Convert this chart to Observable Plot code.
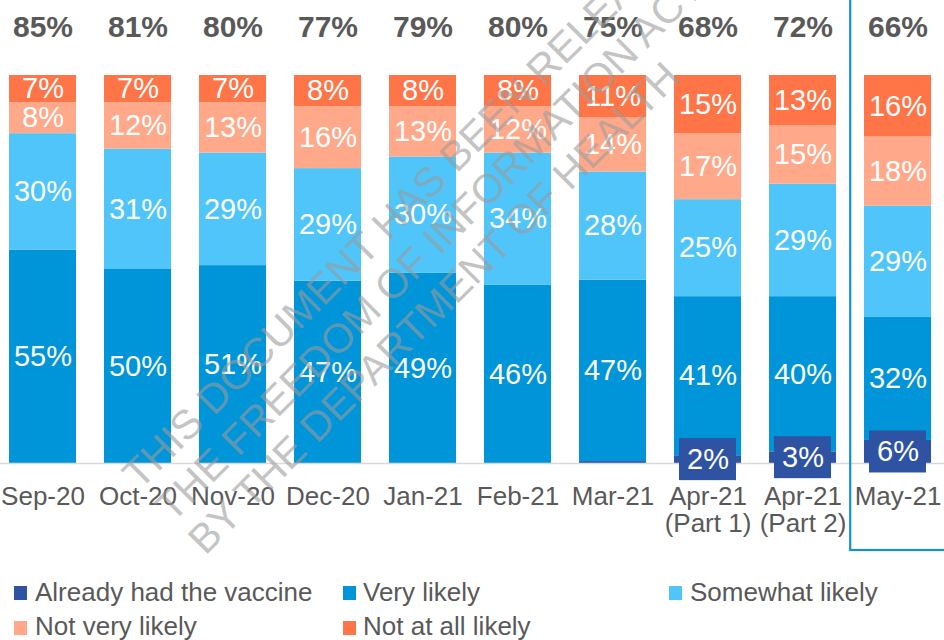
<!DOCTYPE html>
<html>
<head>
<meta charset="utf-8">
<script src="https://cdn.jsdelivr.net/npm/d3@7"></script>
<script src="https://cdn.jsdelivr.net/npm/@observablehq/plot@0.6"></script>
<style>
  html, body { margin: 0; padding: 0; background: #fff; }
  body { font-family: "Liberation Sans", Arial, sans-serif; }
  #wrap { position: relative; width: 944px; height: 640px; overflow: hidden; }
  #chart { position: absolute; left: 0; top: 0; }
  #legend { position: absolute; left: 0; top: 560px; width: 944px; height: 80px; }
  .sw { position: absolute; width: 13px; height: 14px; }
  .lt { position: absolute; font-size: 26px; line-height: 30px; color: #595959; white-space: nowrap; }
</style>
</head>
<body>
<div id="wrap">
  <div id="chart"></div>
  <div id="legend"></div>
</div>
<script>
// ---- data ----
const categories = ["Sep-20", "Oct-20", "Nov-20", "Dec-20", "Jan-21", "Feb-21", "Mar-21",
  "Apr-21\n(Part 1)", "Apr-21\n(Part 2)", "May-21"];
const seriesNames = ["Already had the vaccine", "Very likely", "Somewhat likely", "Not very likely", "Not at all likely"];
const seriesColors = ["#2E53A3", "#0094D8", "#4FC5FA", "#FFA98A", "#FF7548"];
const already        = [0, 0, 0, 0, 0, 0, 0.5, 2, 3, 6];
const veryLikely     = [55, 50, 51, 47, 49, 46, 47, 41, 40, 32];
const somewhatLikely = [30, 31, 29, 29, 30, 34, 28, 25, 29, 29];
const notVeryLikely  = [8, 12, 13, 16, 13, 12, 14, 17, 15, 18];
const notAtAllLikely = [7, 7, 7, 8, 8, 8, 11, 15, 13, 16];
const likelyTotals   = [85, 81, 80, 77, 79, 80, 75, 68, 72, 66];
const highlighted    = ["May-21"];
const watermark = "THIS DOCUMENT HAS BEEN RELEASED UNDER\nTHE FREEDOM OF INFORMATION ACT 1982\nBY THE DEPARTMENT OF HEALTH";

// ---- derived tables ----
const valuesBySeries = [already, veryLikely, somewhatLikely, notVeryLikely, notAtAllLikely];
const rows = [];
categories.forEach((c, i) => seriesNames.forEach((s, j) => rows.push({category: c, series: s, value: valuesBySeries[j][i]})));
const sums = categories.map((c, i) => valuesBySeries.reduce((a, arr) => a + arr[i], 0));
const alreadyRows = categories
  .map((c, i) => ({category: c, value: already[i], mid: already[i] / 2 / sums[i]}))
  .filter(d => d.value >= 1);
const topRows = categories.map((c, i) => ({category: c, total: likelyTotals[i]}));

const stackOpts = {x: "category", y: "value", z: "series", order: seriesNames, offset: "normalize"};
const font = "'Liberation Sans', Arial, sans-serif";

const chart = Plot.plot({
  width: 944,
  height: 560,
  marginTop: 75,
  marginBottom: 97,
  marginLeft: 0,
  marginRight: 0,
  style: {fontFamily: font, color: "#595959", background: "transparent", overflow: "hidden"},
  x: {domain: categories, range: [-5.6, 946.6], paddingInner: 0.29, paddingOuter: 0.145, label: null},
  y: {domain: [0, 1], axis: null},
  color: {domain: seriesNames, range: seriesColors},
  marks: [
    Plot.barY(rows, {...stackOpts, fill: "series"}),
    Plot.ruleY([0], {stroke: "#D9D9D9", strokeWidth: 1.5}),
    Plot.text(rows, Plot.stackY({
      ...stackOpts,
      text: d => (d.series !== seriesNames[0] ? d.value + "%" : ""),
      fill: "white", fontSize: 29
    })),
    Plot.barY(alreadyRows, {x: "category", y1: "mid", y2: "mid", fill: seriesColors[0],
      insetTop: -21, insetBottom: -21, insetLeft: 5, insetRight: 5}),
    Plot.text(alreadyRows, {x: "category", y: "mid", text: d => d.value + "%", fill: "white", fontSize: 29}),
    Plot.text(topRows, {x: "category", frameAnchor: "top", lineAnchor: "top", dy: -60, text: d => d.total + "%",
      fontSize: 30, fontWeight: "bold", fill: "#595959"}),
    Plot.axisX({tickSize: 0, tickPadding: 22, fontSize: 26, lineHeight: 1.05, fill: "#595959", label: null}),
    Plot.barY(highlighted, {x: d => d, y1: 0, y2: 1, fill: "none", stroke: "#1591D3", strokeWidth: 2.2,
      insetLeft: -13.8, insetRight: -40, insetTop: -90, insetBottom: -87}),
    Plot.text([watermark], {frameAnchor: "bottom-left", text: d => d, rotate: -45, textAnchor: "start",
      lineAnchor: "top", lineHeight: 1.13, fontSize: 41, fill: "#9c9c9c", fillOpacity: 0.6, dx: 116, dy: 4})
  ]
});
document.getElementById("chart").appendChild(chart);

// ---- legend ----
const legend = document.getElementById("legend");
const legendPos = [
  {sx: 14, tx: 35, row: 0},
  {sx: 343, tx: 363, row: 0},
  {sx: 669, tx: 690, row: 0},
  {sx: 14, tx: 35, row: 1},
  {sx: 343, tx: 363, row: 1}
];
seriesNames.forEach((name, i) => {
  const p = legendPos[i];
  const sw = document.createElement("div");
  sw.className = "sw";
  sw.style.left = p.sx + "px";
  sw.style.top = (26 + p.row * 35) + "px";
  sw.style.background = seriesColors[i];
  legend.appendChild(sw);
  const t = document.createElement("div");
  t.className = "lt";
  t.style.left = p.tx + "px";
  t.style.top = (17 + p.row * 34) + "px";
  t.textContent = name;
  legend.appendChild(t);
});
</script>
</body>
</html>
